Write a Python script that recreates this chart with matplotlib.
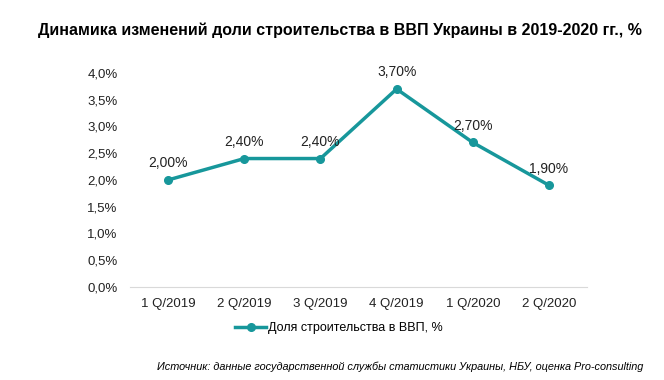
import matplotlib.pyplot as plt
from matplotlib.ticker import FuncFormatter

plt.rcParams['font.family'] = ['Liberation Sans', 'DejaVu Sans']

quarters = ['1 Q/2019', '2 Q/2019', '3 Q/2019', '4 Q/2019', '1 Q/2020', '2 Q/2020']
share = [2.0, 2.4, 2.4, 3.7, 2.7, 1.9]
color = '#17979B'

fig = plt.figure(figsize=(6.64, 3.80), dpi=100)
ax = fig.add_axes([0.196, 0.245, 0.688, 0.563])

x = range(len(quarters))
ax.plot(x, share, color=color, lw=2.5, marker='o', ms=5.5, label='Доля строительства в ВВП, %')
for i, v in zip(x, share):
    ax.annotate(f'{v:.2f}%'.replace('.', ','), (i, v), xytext=(0, 7), textcoords='offset points',
                ha='center', va='bottom', fontsize=10, color='#222222')

ax.set_xlim(-0.5, len(quarters) - 0.5)
ax.set_ylim(0, 4.0)
ax.set_yticks([i * 0.5 for i in range(9)])
ax.yaxis.set_major_formatter(FuncFormatter(lambda v, p: f'{v:.1f}%'.replace('.', ',')))
ax.set_xticks(list(x))
ax.set_xticklabels(quarters)
ax.tick_params(length=0, labelsize=9.5, colors='#222222', pad=8)
ax.tick_params(axis='y', pad=9)
for s in ['top', 'right', 'left']:
    ax.spines[s].set_visible(False)
ax.spines['bottom'].set_color('#d9d9d9')

fig.text(0.512, 0.92, 'Динамика изменений доли строительства в ВВП Украины в 2019-2020 гг., %',
         ha='center', va='center', fontsize=11.5, fontweight='bold')
fig.legend(loc='center', bbox_to_anchor=(0.51, 0.137), frameon=False, fontsize=9,
           handlelength=2.5, handletextpad=0.1)
fig.text(0.968, 0.036, 'Источник: данные государственной службы статистики Украины, НБУ, оценка Pro-consulting',
         ha='right', va='center', fontsize=7.8, style='italic')

fig.savefig('out.png', dpi=100)
